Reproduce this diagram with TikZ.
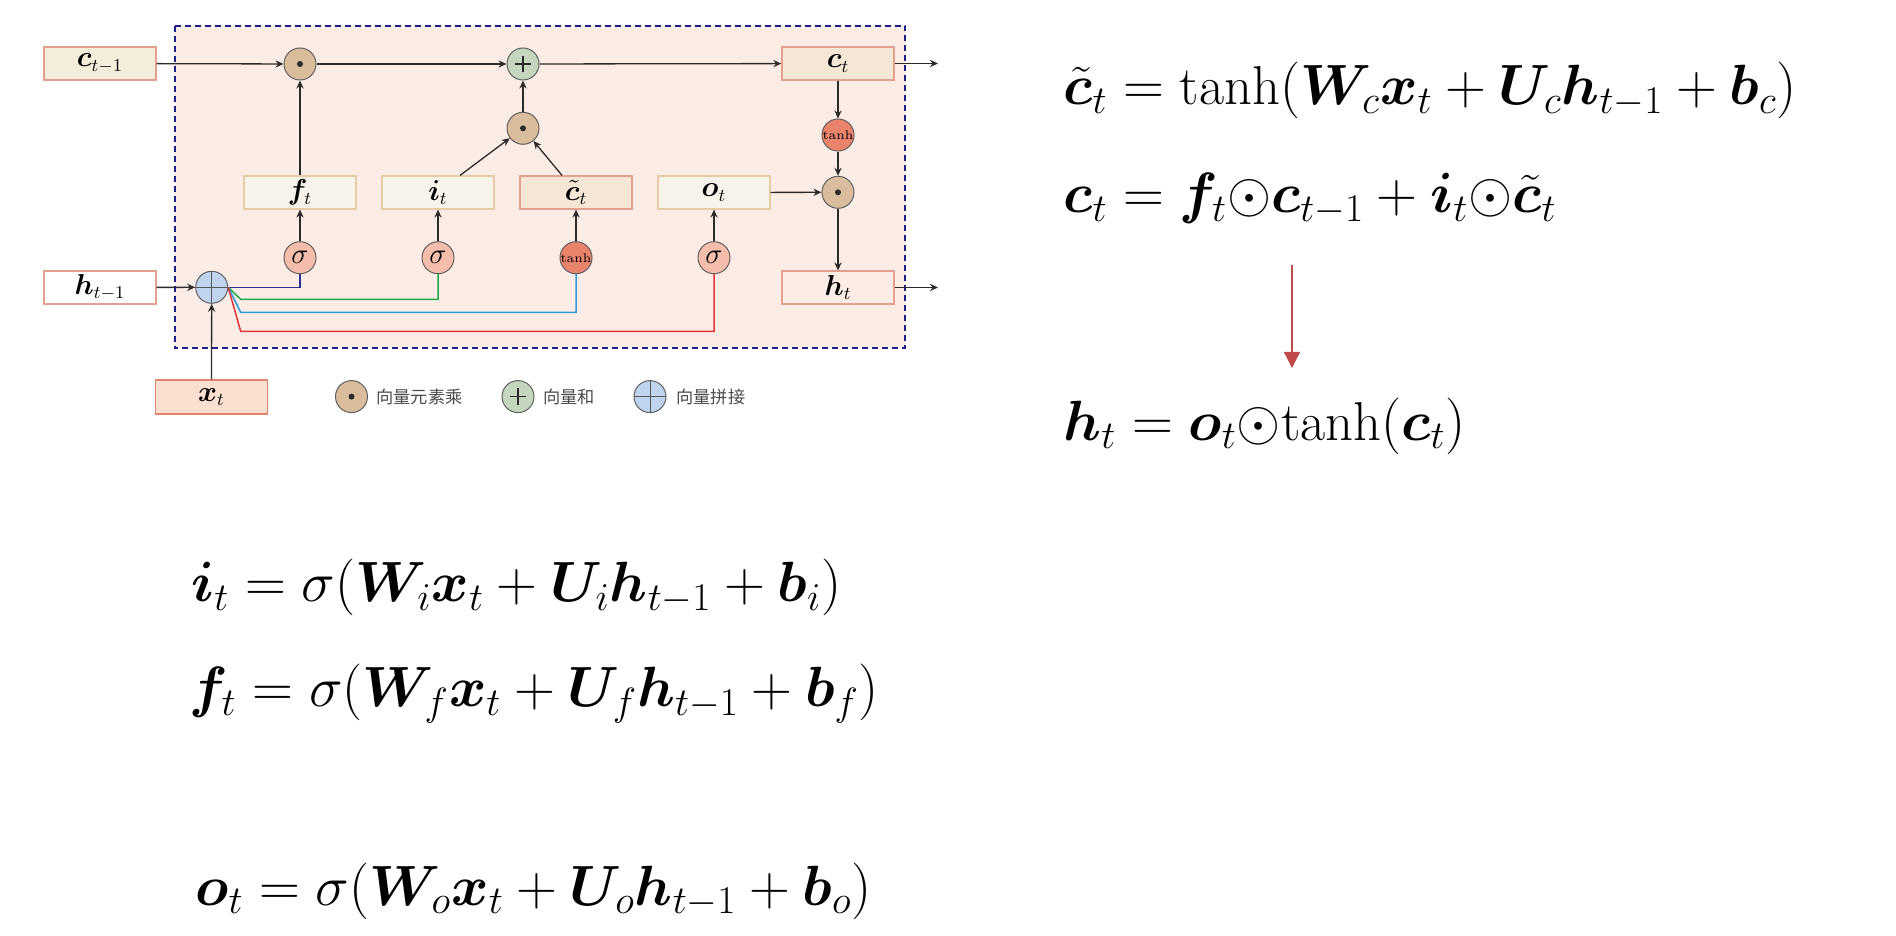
\documentclass[tikz,border=0pt]{standalone}
\usepackage{amsmath}
\usepackage{fontspec}
\usepackage{bm}
\usepackage{graphicx}
\usepackage{xcolor}
\usepackage{tikz}
\usetikzlibrary{arrows.meta,calc}
\newfontfamily\cjk{Noto Sans CJK SC}
\definecolor{cbg}{HTML}{FCECE6}
\definecolor{cdash}{HTML}{1C1F8C}
\definecolor{cink}{HTML}{2B2B2B}
\definecolor{cbord}{HTML}{E3A08E}
\definecolor{cbeige}{HTML}{F5EDDC}
\definecolor{cgate}{HTML}{F8F3EA}
\definecolor{cgateb}{HTML}{E6CCA4}
\definecolor{cctil}{HTML}{F5E6D5}
\definecolor{cxt}{HTML}{FBDFD0}
\definecolor{cxtb}{HTML}{E2846F}
\definecolor{cmul}{HTML}{D9BD9D}
\definecolor{cadd}{HTML}{C4D6BE}
\definecolor{ccat}{HTML}{BFD4EE}
\definecolor{csig}{HTML}{F5BEAC}
\definecolor{ctanh}{HTML}{E9836C}
\definecolor{cnavy}{HTML}{27308C}
\definecolor{cgreen}{HTML}{1DAA4C}
\definecolor{cblue}{HTML}{2D9BD9}
\definecolor{cred}{HTML}{E8323C}
\definecolor{carrow}{HTML}{C04A4A}
\tikzset{>={Stealth[length=4pt,width=3.6pt]}}
\newcommand\boxfont{\fontsize{13.5}{16}\selectfont}
\newcommand\eqfont{\fontsize{24}{28}\selectfont}
\newcommand\eqbox[1]{\scalebox{1.14}{$#1$}}
\tikzset{
  vecbox/.style={draw=cbord,line width=0.6pt,minimum width=56pt,minimum height=16.5pt,inner sep=0pt,font=\boxfont},
  gatebox/.style={vecbox,draw=cgateb,fill=cgate},
  opnode/.style={circle,draw=cink!75,line width=0.5pt,minimum size=16pt,inner sep=0pt},
  mulop/.style={opnode,fill=cmul,path picture={\fill[cink] (path picture bounding box.center) circle (1.5pt);}},
  addop/.style={opnode,fill=cadd,path picture={
      \draw[cink,line width=0.7pt] ([xshift=-4.2pt]path picture bounding box.center) -- ([xshift=4.2pt]path picture bounding box.center);
      \draw[cink,line width=0.7pt] ([yshift=-4.2pt]path picture bounding box.center) -- ([yshift=4.2pt]path picture bounding box.center);}},
  catop/.style={opnode,fill=ccat,path picture={
      \draw[cink!80] (path picture bounding box.west) -- (path picture bounding box.east);
      \draw[cink!80] (path picture bounding box.north) -- (path picture bounding box.south);}},
  sigop/.style={opnode,fill=csig,font=\boxfont},
  tanhop/.style={opnode,fill=ctanh,font=\fontsize{6.3}{7}\selectfont},
  flow/.style={->,cink,line width=0.65pt},
  eqn/.style={anchor=base west,inner sep=0pt,font=\eqfont},
  legtext/.style={anchor=west,inner sep=0pt,text=cink!85,font=\cjk\fontsize{8.6}{10}\selectfont}
}

\begin{document}
\begin{tikzpicture}[x=0.5pt,y=-0.5pt]
\useasboundingbox[fill=white] (0,0) rectangle (1896,936);

% ============ LSTM cell ============
\draw[cdash,fill=cbg,line width=1pt,dash pattern=on 3pt off 2pt] (175,25.7) rectangle (905,348.5);

\node[vecbox,fill=cbeige] (cprev) at (100,63.5) {$\bm{c}_{t-1}$};
\node[vecbox,fill=white] (hprev) at (100,287.5) {$\bm{h}_{t-1}$};
\node[vecbox,draw=cxtb,fill=cxt,minimum height=17pt] (xt) at (211.5,397) {$\bm{x}_t$};

\node[mulop] (mulf) at (300,64) {};
\node[addop] (addc) at (523,64) {};
\node[mulop] (muli) at (523,128.3) {};
\node[catop] (cat) at (211.7,287.3) {};

\node[gatebox] (ft) at (300,192.5) {$\bm{f}_t$};
\node[gatebox] (it) at (438,192.5) {$\bm{i}_t$};
\node[vecbox,fill=cctil] (ctil) at (576,192.5) {$\tilde{\bm{c}}_t$};
\node[gatebox] (ot) at (714,192.5) {$\bm{o}_t$};

\node[sigop] (sigf) at (300,257.7) {$\sigma$};
\node[sigop] (sigi) at (438,257.7) {$\sigma$};
\node[tanhop] (tanhg) at (576,257.7) {tanh};
\node[sigop] (sigo) at (714,257.7) {$\sigma$};

\node[vecbox,fill=cctil!80!cbeige] (ct) at (838,63.5) {$\bm{c}_t$};
\node[tanhop] (tanhc) at (838,135) {tanh};
\node[mulop] (mulo) at (838,192.3) {};
\node[vecbox,fill=cbg] (ht) at (838,287.5) {$\bm{h}_t$};
\coordinate (cout) at (938,63.5);
\coordinate (hout) at (938,287.5);

% cell state
\draw[flow] (cprev) -- (mulf);
\draw[flow] (mulf) -- (addc);
\draw[flow] (addc) -- (ct);
\draw[flow] (ct) -- (cout);
\draw[flow] (ft) -- (mulf);
\draw[flow] ($(it.north)+(22,0)$) -- (muli);
\draw[flow] ($(ctil.north)+(-14,0)$) -- (muli);
\draw[flow] (muli) -- (addc);

% output
\draw[flow] (ct) -- (tanhc);
\draw[flow] (tanhc) -- (mulo);
\draw[flow] (ot) -- (mulo);
\draw[flow] (mulo) -- (ht);
\draw[flow] (ht) -- (hout);

% gates
\draw[flow] (sigf) -- (ft);
\draw[flow] (sigi) -- (it);
\draw[flow] (tanhg) -- (ctil);
\draw[flow] (sigo) -- (ot);
\draw[flow] (hprev) -- (cat);
\draw[flow] (xt) -- (cat);
\draw[cnavy,line width=0.75pt] (cat.east) -| (sigf.south);
\draw[cgreen,line width=0.75pt] (cat.east) -- ++(12.5,12) -| (sigi.south);
\draw[cblue,line width=0.75pt] (cat.east) -- ++(12.5,25) -| (tanhg.south);
\draw[cred,line width=0.75pt] (cat.east) -- ++(12.5,44) -| (sigo.south);

% legend
\node[mulop] (legmul) at (351.5,396.6) {};
\node[legtext] (legmult) at (376,396.6) {向量元素乘};
\node[addop] (legadd) at (518,396.6) {};
\node[legtext] (legaddt) at (543,396.6) {向量和};
\node[catop] (legcat) at (650,396.6) {};
\node[legtext] (legcatt) at (676,396.6) {向量拼接};

% ============ equations ============
\node[eqn] (eqctil) at (1063,105) {\eqbox{\tilde{\bm{c}}_t = \tanh(\bm{W}_c\bm{x}_t + \bm{U}_c\bm{h}_{t-1} + \bm{b}_c)}};
\node[eqn] (eqct) at (1063,213) {\eqbox{\bm{c}_t = \bm{f}_t{\odot}\bm{c}_{t-1} + \bm{i}_t{\odot}\tilde{\bm{c}}_t}};
\coordinate (arrtop) at (1292,265);
\coordinate (arrbot) at (1292,368);
\draw[carrow,line width=0.65pt,-{Triangle[length=8pt,width=8pt]}] (arrtop) -- (arrbot);
\node[eqn] (eqht) at (1063,440) {\eqbox{\bm{h}_t = \bm{o}_t{\odot}{\tanh}(\bm{c}_t)}};

\node[eqn] (eqi) at (191,601.7) {\eqbox{\bm{i}_t = \sigma(\bm{W}_i\bm{x}_t + \bm{U}_i\bm{h}_{t-1} + \bm{b}_i)}};
\node[eqn] (eqf) at (189,706.7) {\eqbox{\bm{f}_t = \sigma(\bm{W}_f\bm{x}_t + \bm{U}_f\bm{h}_{t-1} + \bm{b}_f)}};
\node[eqn] (eqo) at (195,905) {\eqbox{\bm{o}_t = \sigma(\bm{W}_o\bm{x}_t + \bm{U}_o\bm{h}_{t-1} + \bm{b}_o)}};

\end{tikzpicture}
\end{document}
